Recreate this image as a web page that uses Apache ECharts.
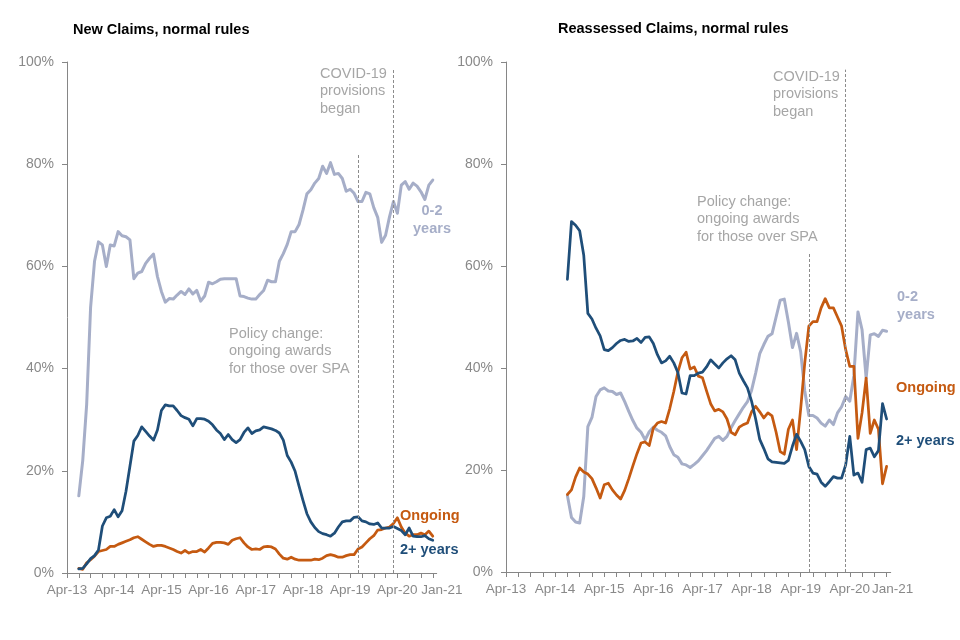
<!DOCTYPE html>
<html>
<head>
<meta charset="utf-8">
<script src="https://cdn.jsdelivr.net/npm/echarts@6.0.0/dist/echarts.min.js"></script>
<style>
html, body { margin: 0; padding: 0; background: #ffffff; }
#chart { width: 960px; height: 640px; }
</style>
</head>
<body>
<div id="chart"></div>
<script>
// ---- Categories (monthly, Apr-13 .. Feb-21) ----
const months = [
  'Apr-13','May-13','Jun-13','Jul-13','Aug-13','Sep-13','Oct-13','Nov-13','Dec-13',
  'Jan-14','Feb-14','Mar-14','Apr-14','May-14','Jun-14','Jul-14','Aug-14','Sep-14','Oct-14','Nov-14','Dec-14',
  'Jan-15','Feb-15','Mar-15','Apr-15','May-15','Jun-15','Jul-15','Aug-15','Sep-15','Oct-15','Nov-15','Dec-15',
  'Jan-16','Feb-16','Mar-16','Apr-16','May-16','Jun-16','Jul-16','Aug-16','Sep-16','Oct-16','Nov-16','Dec-16',
  'Jan-17','Feb-17','Mar-17','Apr-17','May-17','Jun-17','Jul-17','Aug-17','Sep-17','Oct-17','Nov-17','Dec-17',
  'Jan-18','Feb-18','Mar-18','Apr-18','May-18','Jun-18','Jul-18','Aug-18','Sep-18','Oct-18','Nov-18','Dec-18',
  'Jan-19','Feb-19','Mar-19','Apr-19','May-19','Jun-19','Jul-19','Aug-19','Sep-19','Oct-19','Nov-19','Dec-19',
  'Jan-20','Feb-20','Mar-20','Apr-20','May-20','Jun-20','Jul-20','Aug-20','Sep-20','Oct-20','Nov-20','Dec-20',
  'Jan-21','Feb-21'
];
const xTickLabels = ['Apr-13','Apr-14','Apr-15','Apr-16','Apr-17','Apr-18','Apr-19','Apr-20','Jan-21'];
const yTicks = { min: 0, max: 100, interval: 20 };

// ---- Event markers ----
const policyChangeMonth = 'Jun-19';
const covidMonth = 'Mar-20';

// ---- New Claims, normal rules (% share), first value = Jul-13 ----
const newStart = 'Jul-13';
const newShort = [
  15.1, 22, 33, 52, 61, 64.8, 64.2, 60.0, 64.2, 64.0,
  66.8, 66.0, 65.8, 65.2, 57.6, 58.7, 59.0, 60.6, 61.6, 62.4,
  58.0, 55.1, 53.0, 53.7, 53.6, 54.4, 55.1, 54.5, 55.6, 54.6,
  55.3, 53.2, 54.2, 56.9, 56.6, 57.0, 57.5, 57.6, 57.6, 57.6,
  57.6, 54.2, 54.1, 53.8, 53.6, 53.6, 54.5, 55.3, 57.3, 57.0,
  57.0, 61.0, 62.5, 64.3, 66.8, 66.8, 68.2, 71.0, 74.2, 75.0,
  76.3, 77.2, 79.6, 78.2, 80.3, 78.0, 78.2, 77.2, 74.7, 75.1,
  74.3, 72.7, 72.7, 74.5, 74.2, 71.5, 69.6, 64.7, 66.1, 69.7,
  72.7, 70.4, 75.9, 76.6, 75.1, 76.3, 75.7, 74.6, 73.1, 75.9, 76.9
];
const newLong = [
  0.8, 0.9, 1.8, 2.8, 3.4, 4.5, 9.2, 10.8, 11.1, 12.4,
  11.0, 12.2, 16.0, 20.9, 25.8, 26.9, 28.6, 27.7, 26.8, 26.0,
  28.0, 31.8, 32.9, 32.7, 32.7, 31.8, 30.8, 30.4, 30.1, 28.8,
  30.2, 30.2, 30.1, 29.7, 29.0, 28.0, 27.3, 26.1, 27.1, 26.1,
  25.5, 26.1, 27.5, 28.4, 27.3, 27.8, 28.0, 28.6, 28.4, 28.2,
  27.9, 27.4, 26.0, 23.0, 21.7, 19.9, 17.0, 14.2, 11.6, 10.0,
  8.9, 8.1, 7.7, 7.5, 7.2, 7.8, 9.0, 10.0, 10.2, 10.2,
  10.9, 11.0, 10.2, 10.0, 9.6, 9.5, 9.8, 8.8, 8.8, 8.8,
  9.1, 8.7, 8.3, 7.5, 8.8, 7.2, 7.1, 7.1, 7.3, 6.7, 6.4
];
const newOngoing = [
  0.9, 0.7, 2.0, 2.6, 3.3, 4.2, 4.4, 4.6, 5.2, 5.2,
  5.6, 5.9, 6.2, 6.5, 6.9, 7.1, 6.6, 6.1, 5.6, 5.2,
  5.4, 5.4, 5.2, 4.9, 4.6, 4.2, 3.9, 4.4, 3.9, 4.2,
  4.2, 4.6, 4.1, 4.9, 5.8, 6.0, 6.0, 5.9, 5.6, 6.4,
  6.7, 6.9, 5.9, 5.1, 4.6, 4.7, 4.6, 5.1, 5.2, 5.1,
  4.7, 3.7, 2.9, 2.7, 3.1, 2.7, 2.5, 2.5, 2.5, 2.5,
  2.7, 2.6, 2.9, 3.4, 3.6, 3.4, 3.1, 3.1, 3.4, 3.6,
  3.6, 4.7, 5.1, 5.9, 6.7, 7.3, 8.4, 8.5, 8.8, 9.0,
  9.7, 10.8, 9.0, 7.8, 7.2, 7.5, 7.5, 7.8, 7.5, 8.2, 7.2
];

// ---- Reassessed Claims, normal rules (% share), first value = Jul-14 ----
const reStart = 'Jul-14';
const reShort = [
  15.0, 10.7, 9.8, 9.6, 14.8, 28.5, 30.3, 34.4, 35.7, 36.1,
  35.5, 35.4, 34.8, 35.1, 33.4, 31.5, 29.7, 28.2, 27.4, 25.9,
  27.5, 28.4, 27.8, 27.4, 26.7, 24.6, 23.0, 22.5, 21.2, 21.0,
  20.5, 21.1, 21.8, 22.8, 23.8, 25.0, 26.2, 26.6, 25.8, 26.6,
  28.3, 29.7, 31.0, 32.3, 33.4, 35.6, 39.0, 42.8, 44.6, 46.2,
  46.7, 50.0, 53.3, 53.5, 49.0, 44.0, 46.8, 43.2, 35.5, 30.7,
  30.7, 30.2, 29.2, 28.6, 29.8, 28.9, 31.2, 32.4, 34.4, 33.5,
  38.5, 51.0, 47.5, 38.0, 46.5, 46.7, 46.2, 47.4, 47.2
];
const reLong = [
  57.4, 68.7, 68.0, 66.9, 62.1, 50.7, 49.6, 47.8, 46.3, 43.6,
  43.4, 44.0, 44.8, 45.4, 45.6, 45.2, 45.3, 45.8, 45.0, 46.0,
  46.1, 44.8, 42.6, 41.0, 41.4, 42.3, 41.0, 39.1, 35.1, 34.9,
  38.5, 38.5, 39.0, 39.2, 40.2, 41.6, 40.8, 40.0, 41.0, 41.8,
  42.4, 41.6, 39.0, 37.5, 36.1, 33.5, 30.0, 26.0, 24.2, 22.2,
  21.6, 21.5, 21.4, 21.3, 21.9, 24.7, 27.0, 25.6, 24.0, 20.7,
  19.4, 19.2, 17.6, 16.8, 17.7, 18.7, 18.4, 18.4, 21.0, 26.6,
  19.0, 19.4, 17.6, 24.0, 24.3, 22.6, 23.8, 33.0, 30.0
];
const reOngoing = [
  15.2, 16.1, 18.6, 20.4, 19.6, 19.2, 18.3, 16.5, 14.5, 17.1,
  17.4, 16.1, 15.1, 14.3, 16.0, 18.3, 20.8, 23.2, 25.3, 25.5,
  24.8, 28.2, 29.2, 29.5, 29.2, 32.0, 35.4, 39.2, 42.0, 43.1,
  39.8, 40.2, 38.4, 38.1, 35.5, 33.0, 31.6, 31.9, 31.4, 30.0,
  27.4, 26.9, 28.4, 28.9, 29.2, 31.4, 32.5, 31.4, 30.2, 31.2,
  30.6, 27.4, 23.6, 23.1, 28.0, 29.8, 24.0, 32.0, 41.0, 48.2,
  49.1, 49.1, 51.8, 53.6, 51.8, 51.8, 50.0, 48.2, 43.6, 40.3,
  40.3, 26.2, 31.2, 38.0, 27.2, 29.8, 28.0, 17.3, 20.7
];

// ---- Styling ----
const colShort = '#a6aec8';
const colLong = '#1f4e79';
const colOngoing = '#c55a11';
const colNote = '#a6a6a6';
const colAxisText = '#898989';
const colAxisLine = '#868686';
const FONT = '"Liberation Sans", Arial, sans-serif';

function pad(startLabel, values) {
  const s = months.indexOf(startLabel);
  const arr = months.map(() => null);
  values.forEach((v, i) => { arr[s + i] = v; });
  return arr;
}

function xAxisFor(gridIndex, lastShift) {
  return {
    type: 'category', gridIndex, data: months, boundaryGap: false,
    axisLine: { show: true, lineStyle: { color: colAxisLine, width: 1 } },
    axisTick: { show: true, length: 5, interval: (i) => i % 3 === 0, lineStyle: { color: colAxisLine } },
    axisLabel: {
      interval: (i, v) => xTickLabels.includes(v),
      color: colAxisText, fontSize: 13.5, fontFamily: FONT, margin: 10,
      formatter: (v) => v === xTickLabels[xTickLabels.length - 1] ? '{last|' + v + '}' : v,
      rich: { last: { color: colAxisText, fontSize: 13.5, fontFamily: FONT, padding: [0, 0, 0, lastShift] } }
    },
    splitLine: { show: false }
  };
}
function yAxisFor(gridIndex) {
  return {
    type: 'value', gridIndex, min: yTicks.min, max: yTicks.max, interval: yTicks.interval,
    axisLine: { show: true, lineStyle: { color: colAxisLine, width: 1 } },
    axisTick: { show: true, length: 5, lineStyle: { color: colAxisLine } },
    axisLabel: { formatter: '{value}%', color: colAxisText, fontSize: 14, fontFamily: FONT, margin: 13 },
    splitLine: { show: false }
  };
}
function lineSeries(gridIndex, data, color, width, extra) {
  return Object.assign({
    type: 'line', xAxisIndex: gridIndex, yAxisIndex: gridIndex, data,
    showSymbol: false, symbol: 'none', connectNulls: false, silent: true,
    lineStyle: { color, width, join: 'round', cap: 'round' }, itemStyle: { color }
  }, extra || {});
}
function eventLines(policyTop, covidTop) {
  return {
    symbol: 'none', silent: true, label: { show: false },
    lineStyle: { type: [3, 2], color: '#8c8c8c', width: 1 },
    data: [
      [{ coord: [policyChangeMonth, 0] }, { coord: [policyChangeMonth, policyTop] }],
      [{ coord: [covidMonth, 0] }, { coord: [covidMonth, covidTop] }]
    ]
  };
}
function txt(left, top, text, color, bold, lineHeight) {
  return {
    type: 'text', left, top, silent: true,
    style: {
      text, fill: color, font: (bold ? 'bold ' : '') + '14.5px ' + FONT,
      lineHeight: lineHeight || 17.5
    }
  };
}
function txtCentered(cx, top, text, color, lineHeight) {
  return {
    type: 'text', x: cx, y: top, silent: true,
    style: {
      text, fill: color, font: 'bold 14.5px ' + FONT,
      align: 'center', verticalAlign: 'top', lineHeight: lineHeight
    }
  };
}

const chart = echarts.init(document.getElementById('chart'), null, { renderer: 'canvas' });
chart.setOption({
  animation: false,
  backgroundColor: '#ffffff',
  grid: [
    { left: 67, right: 523.3, top: 62, bottom: 67 },
    { left: 506, right: 69.3, top: 62, bottom: 68 }
  ],
  xAxis: [xAxisFor(0, 18), xAxisFor(1, 12)],
  yAxis: [yAxisFor(0), yAxisFor(1)],
  series: [
    lineSeries(0, pad(newStart, newShort), colShort, 3, { markLine: eventLines(82, 98.5) }),
    lineSeries(0, pad(newStart, newOngoing), colOngoing, 2.75),
    lineSeries(0, pad(newStart, newLong), colLong, 2.75),
    lineSeries(1, pad(reStart, reShort), colShort, 3, { markLine: eventLines(62.7, 98.5) }),
    lineSeries(1, pad(reStart, reOngoing), colOngoing, 2.75),
    lineSeries(1, pad(reStart, reLong), colLong, 2.75)
  ],
  graphic: [
    txt(73, 21, 'New Claims, normal rules', '#000000', true),
    txt(558, 20, 'Reassessed Claims, normal rules', '#000000', true),
    txt(320, 65, 'COVID-19\nprovisions\nbegan', colNote, false),
    txt(229, 325, 'Policy change:\nongoing awards\nfor those over SPA', colNote, false),
    txt(773, 68, 'COVID-19\nprovisions\nbegan', colNote, false),
    txt(697, 193, 'Policy change:\nongoing awards\nfor those over SPA', colNote, false),
    txtCentered(432, 202, '0-2\nyears', colShort, 18),
    txt(400, 507, 'Ongoing', colOngoing, true),
    txt(400, 541, '2+ years', colLong, true),
    txt(897, 288, '0-2\nyears', colShort, true, 18),
    txt(896, 379, 'Ongoing', colOngoing, true),
    txt(896, 432, '2+ years', colLong, true)
  ]
});
</script>
</body>
</html>
